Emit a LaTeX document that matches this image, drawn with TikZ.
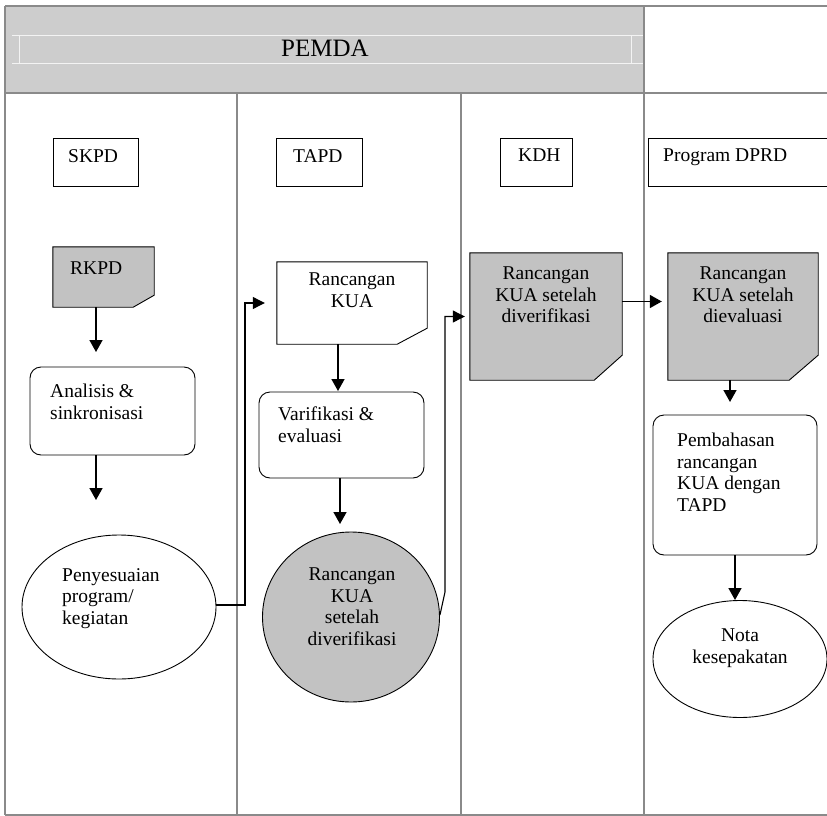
\documentclass[tikz,border=0pt]{standalone}
\usepackage{fontspec}
\setmainfont{Liberation Serif}
\usetikzlibrary{arrows.meta,shapes.geometric,calc}
\definecolor{hdr}{HTML}{CDCDCD}
\definecolor{shade}{HTML}{C2C2C2}
\definecolor{gridc}{HTML}{8A8A8A}
\begin{document}
\begin{tikzpicture}[x=1pt,y=-1pt,
  lane/.style={draw=gridc, line width=1.1pt},
  box/.style={draw=black, line width=0.9pt, inner sep=0pt, rectangle},
  ghost/.style={inner sep=0pt, rectangle, draw=none},
  rbox/.style={box, rounded corners=11pt},
  oval/.style={draw=black, line width=0.9pt, ellipse, inner sep=0pt},
  lbl/.style={font=\fontsize{19.5}{21.5}\selectfont, inner sep=0pt, align=left},
  clbl/.style={font=\fontsize{19.5}{21.5}\selectfont, inner sep=0pt, align=center},
  arr/.style={draw=black, line width=1.6pt, -{Triangle[length=12pt,width=13pt]}},
  conn/.style={draw=black, line width=1.1pt, -{Triangle[length=12pt,width=12pt]}}
]
\useasboundingbox (0,0) rectangle (827,816);
\begin{scope}
\clip (0,0) rectangle (827,816);
% ---------- table ----------
\fill[hdr] (5,6) rectangle (644,93);
\draw[white!75!hdr, line width=0.7pt] (12,35) -- (644,35) (12,63) -- (644,63)
  (19,35) -- (19,63) (631,35) -- (631,63);
\draw[lane] (5,6) -- (827,6);
\draw[lane] (5,93) -- (827,93);
\draw[lane] (5,6) -- (5,815);
\draw[lane] (5,815) -- (827,815);
\draw[lane] (644,6) -- (644,815);
\draw[lane] (237,93) -- (237,815);
\draw[lane] (461,93) -- (461,815);
\node[font=\fontsize{25}{28}\selectfont, inner sep=0pt, anchor=north] (pemda) at (325,40) {PEMDA};
% ---------- lane headers ----------
\node[box, minimum width=85pt, minimum height=48pt] (sk) at (95.5,162) {};
\node[box, minimum width=86pt, minimum height=48pt] (tp) at (319,162) {};
\node[box, minimum width=72pt, minimum height=48pt] (kd) at (536,162) {};
\node[box, minimum width=182pt, minimum height=48pt] (dp) at (739,162) {};
\node[lbl, anchor=north west] (skt) at (68,149) {SKPD};
\node[lbl, anchor=north west] (tpt) at (293,149) {TAPD};
\node[lbl, anchor=north west] (kdt) at (518,149) {KDH};
\node[lbl, anchor=north west] (dpt) at (663,149) {Program DPRD};
% ---------- SKPD lane ----------
\node[ghost, minimum width=101pt, minimum height=60pt] (rkpd) at (103.5,277) {};
\draw[box, fill=shade] (rkpd.north west) -- (rkpd.north east) -- ([yshift=12pt]rkpd.south east)
  -- ([xshift=-21pt]rkpd.south east) -- (rkpd.south west) -- cycle;
\node[lbl, anchor=north west] (rkpdt) at (70,262) {RKPD};
\node[rbox, minimum width=165pt, minimum height=88pt] (ana) at (112.5,411) {};
\node[lbl, anchor=north west] (anat) at (50,384) {Analisis \&\\sinkronisasi};
\node[oval, minimum width=194pt, minimum height=144pt] (pen) at (119,607) {};
\node[lbl, anchor=north west] (pent) at (62,568) {Penyesuaian\\program/\\kegiatan};
\coordinate (a1) at (96,352);
\coordinate (a2) at (96,500);
\draw[arr] (rkpd.south -| a1) -- (a1);
\draw[arr] (ana.south -| a2) -- (a2);
% ---------- TAPD lane ----------
\node[ghost, minimum width=150pt, minimum height=82pt] (rk) at (352,303) {};
\draw[box, fill=white] (rk.north west) -- (rk.north east) -- ([yshift=16pt]rk.south east)
  -- ([xshift=-30pt]rk.south east) -- (rk.south west) -- cycle;
\node[clbl, anchor=north] (rkt) at (352,273) {Rancangan\\KUA};
\node[rbox, minimum width=165pt, minimum height=86pt] (ver) at (341.5,435) {};
\node[lbl, anchor=north west] (vert) at (278,407) {Varifikasi \&\\evaluasi};
\node[oval, fill=shade, minimum width=177pt, minimum height=170pt] (circ) at (351,617) {};
\node[clbl, anchor=north] (circt) at (352,568) {Rancangan\\KUA\\setelah\\diverifikasi};
\coordinate (a3) at (338,391);
\coordinate (a4) at (340,524);
\draw[arr] (rk.south -| a3) -- (a3);
\draw[arr] (ver.south -| a4) -- (a4);
\coordinate (b1) at (245,605);
\draw[conn] (pen.east |- b1) -- (b1) |- ([xshift=-12pt]rk.west);
% ---------- KDH lane ----------
\node[ghost, minimum width=152pt, minimum height=127pt] (kdh) at (546,316.5) {};
\draw[box, fill=shade] (kdh.north west) -- (kdh.north east) -- ([yshift=25pt]kdh.south east)
  -- ([xshift=-28pt]kdh.south east) -- (kdh.south west) -- cycle;
\node[clbl, anchor=north] (kdht) at (546,267) {Rancangan\\KUA setelah\\diverifikasi};
\coordinate (b2) at (445,592);
\draw[conn] ([yshift=2pt]circ.east) -- (b2) |- ([xshift=-5pt]kdh.west);
% ---------- DPRD lane ----------
\node[ghost, minimum width=150pt, minimum height=127pt] (dev) at (743,316.5) {};
\draw[box, fill=shade] (dev.north west) -- (dev.north east) -- ([yshift=25pt]dev.south east)
  -- ([xshift=-29pt]dev.south east) -- (dev.south west) -- cycle;
\node[clbl, anchor=north] (devt) at (743,267) {Rancangan\\KUA setelah\\dievaluasi};
\draw[arr] ([yshift=15pt]kdh.east) -- ([yshift=15pt,xshift=-6pt]dev.west);
\node[rbox, minimum width=164pt, minimum height=140pt] (pem) at (735,485) {};
\node[lbl, anchor=north west] (pemt) at (677,433) {Pembahasan\\rancangan\\KUA dengan\\TAPD};
\node[oval, minimum width=174pt, minimum height=117pt] (nota) at (740,659) {};
\node[clbl, anchor=north] (notat) at (740,629) {Nota\\kesepakatan};
\coordinate (a5) at (730,402);
\coordinate (a6) at (735,600);
\draw[arr] (dev.south -| a5) -- (a5);
\draw[arr] (pem.south -| a6) -- (a6);
\end{scope}
\end{tikzpicture}
\end{document}
